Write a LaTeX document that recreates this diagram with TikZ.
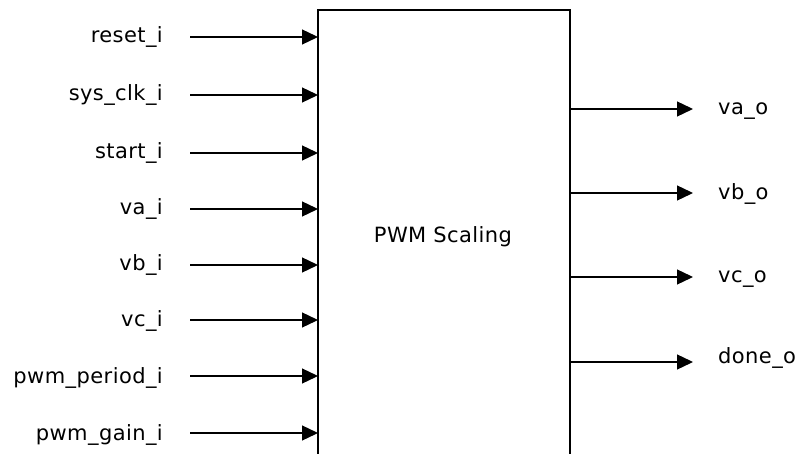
\documentclass[tikz,border=0pt]{standalone}
\usepackage{fontspec}
\setmainfont{DejaVu Sans}[LetterSpace=2]
\usetikzlibrary{arrows.meta,calc}
\begin{document}
\begin{tikzpicture}[x=1pt,y=-1pt,
  lbl/.style={inner sep=0pt, font=\fontsize{21}{25}\selectfont},
  arr/.style={line width=1.3pt, -{Triangle[length=16pt,width=15pt]}},
  blk/.style={draw, line width=1.3pt}]
\useasboundingbox (0,0) rectangle (800,454);
\clip (0,0) rectangle (800,454);
\draw[blk] (318,480) -- (318,10) -- (570,10) -- (570,480);
\coordinate (bw) at (318,240);
\coordinate (be) at (570,240);
\node[lbl, anchor=base] (title) at (443,243) {PWM Scaling};
% inputs
\foreach \n/\t/\y/\b in {i1/reset\_i/37/43, i2/sys\_clk\_i/95/101, i3/start\_i/153/159, i4/va\_i/209/215, i5/vb\_i/265/271, i6/vc\_i/320/326, i7/pwm\_period\_i/376/383, i8/pwm\_gain\_i/433/440}{
  \node[lbl, anchor=base east] (\n) at (163,\b) {\t};
  \coordinate (\n s) at (190,\y);
  \draw[arr] (\n s) -- (\n s -| bw);
}
% outputs
\foreach \n/\t/\y/\b in {o1/va\_o/109/115, o2/vb\_o/193/200, o3/vc\_o/277/283, o4/done\_o/362/363}{
  \node[lbl, anchor=base west] (\n) at (718,\b) {\t};
  \coordinate (\n e) at (693,\y);
  \draw[arr] (\n e -| be) -- (\n e);
}
\end{tikzpicture}
\end{document}
